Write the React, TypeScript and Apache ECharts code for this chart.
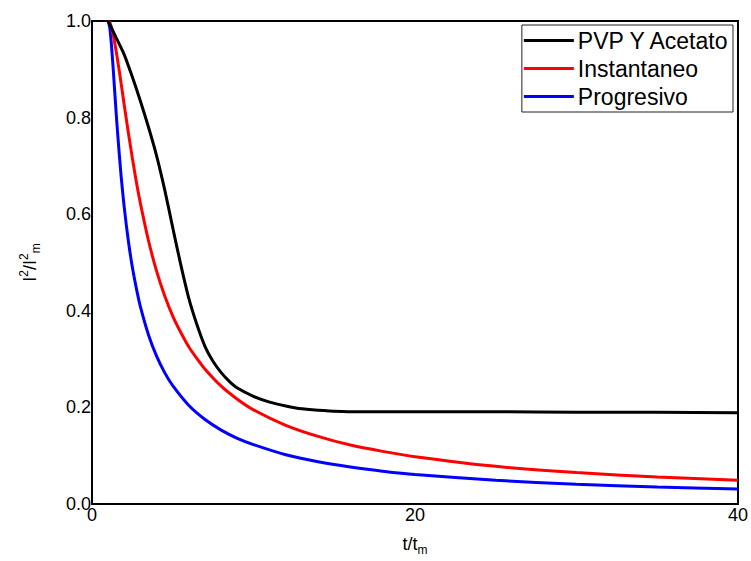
import React, { useEffect, useRef } from "react";
import * as echarts from "echarts";

const seriesNames = ["PVP Y Acetato", "Instantaneo", "Progresivo"];
const seriesColors = ["#000000", "#ff0000", "#0000ff"];

const pvpData: [number, number][] = [
  [1, 1.0], [1.5, 0.965], [2, 0.93], [2.5, 0.884], [3, 0.834], [3.5, 0.78],
  [4, 0.721], [4.5, 0.651], [5, 0.572], [5.5, 0.495], [6, 0.425], [6.5, 0.371],
  [7, 0.326], [7.5, 0.295], [8, 0.272], [8.5, 0.254], [9, 0.24], [10, 0.223],
  [11, 0.211], [12, 0.203], [13, 0.197], [14, 0.194], [16, 0.191], [20, 0.191],
  [25, 0.191], [30, 0.19], [35, 0.19], [40, 0.189],
];

const instData: [number, number][] = [
  [1, 1.0], [1.1, 0.997], [1.25, 0.981], [1.5, 0.937], [1.75, 0.883], [2, 0.825],
  [2.25, 0.769], [2.5, 0.716], [2.75, 0.666], [3, 0.622], [3.5, 0.545], [4, 0.482],
  [4.5, 0.431], [5, 0.389], [5.5, 0.355], [6, 0.325], [6.5, 0.301], [7, 0.279],
  [8, 0.244], [9, 0.217], [10, 0.195], [12, 0.163], [14, 0.14], [16, 0.122],
  [18, 0.109], [20, 0.098], [25, 0.078], [30, 0.065], [35, 0.056], [40, 0.049],
];

const progData: [number, number][] = [
  [1, 1.0], [1.1, 0.986], [1.2, 0.952], [1.3, 0.907], [1.4, 0.857], [1.5, 0.808],
  [1.6, 0.762], [1.8, 0.68], [2, 0.613], [2.25, 0.545], [2.5, 0.49], [2.75, 0.446],
  [3, 0.408], [3.5, 0.35], [4, 0.306], [4.5, 0.272], [5, 0.245], [6, 0.204],
  [7, 0.175], [8, 0.153], [9, 0.136], [10, 0.123], [12, 0.102], [14, 0.0875],
  [16, 0.0766], [18, 0.068], [20, 0.061], [25, 0.049], [30, 0.041], [35, 0.035],
  [40, 0.031],
];

const xMin = 0, xMax = 40, xInterval = 20;
const yMin = 0, yMax = 1, yInterval = 0.2;

export default function App() {
  const ref = useRef<HTMLDivElement>(null);
  useEffect(() => {
    if (!ref.current) return;
    const chart = echarts.init(ref.current, null, { renderer: "svg" });
    const font = "'Liberation Sans', Arial, sans-serif";
    const datasets = [pvpData, instData, progData];
    chart.setOption({
      animation: false,
      backgroundColor: "#ffffff",
      textStyle: { fontFamily: font },
      grid: {
        left: 92, right: 11, top: 21, bottom: 56,
        show: true, borderColor: "#000", borderWidth: 2,
      },
      legend: {
        orient: "vertical",
        right: 18,
        top: 25,
        data: seriesNames.map((n) => ({ name: n })),
        icon: "rect",
        itemWidth: 50,
        itemHeight: 3,
        itemGap: 5,
        padding: [4, 3, 4, 2],
        borderColor: "#222",
        borderWidth: 1,
        textStyle: { fontSize: 23, color: "#000", fontFamily: font, padding: [0, 0, 0, -1] },
      },
      xAxis: {
        type: "value",
        min: xMin, max: xMax, interval: xInterval,
        name: "{a|t/t}{sub|m}",
        nameLocation: "middle",
        nameGap: 28,
        nameTextStyle: {
          rich: {
            a: { fontSize: 18, color: "#000", fontFamily: font, lineHeight: 24, verticalAlign: "middle" },
            sub: { fontSize: 12, color: "#000", fontFamily: font, lineHeight: 24, verticalAlign: "bottom", padding: [10, 0, 0, 0] },
          },
        },
        axisLine: { show: true, lineStyle: { color: "#000", width: 2 } },
        axisTick: { show: false },
        splitLine: { show: false },
        axisLabel: { fontSize: 18, color: "#000", margin: 2, fontFamily: font },
      },
      yAxis: {
        type: "value",
        min: yMin, max: yMax, interval: yInterval,
        name: "{a|I}{sup|2}{a|/I}{sup|2}{sub|m}",
        nameLocation: "middle",
        nameGap: 50,
        nameRotate: 90,
        nameTextStyle: {
          rich: {
            a: { fontSize: 18, color: "#000", fontFamily: font, lineHeight: 24, verticalAlign: "middle" },
            sup: { fontSize: 12, color: "#000", fontFamily: font, lineHeight: 24, verticalAlign: "top", padding: [0, 0, 8, 0] },
            sub: { fontSize: 12, color: "#000", fontFamily: font, lineHeight: 24, verticalAlign: "bottom", padding: [10, 0, 0, 0] },
          },
        },
        axisLine: { show: true, lineStyle: { color: "#000", width: 2 } },
        axisTick: { show: false },
        splitLine: { show: false },
        axisLabel: {
          fontSize: 18, color: "#000", margin: 1, fontFamily: font,
          formatter: (v: number) => v.toFixed(1),
        },
      },
      series: seriesNames.map((name, i) => ({
        name,
        type: "line",
        data: datasets[i],
        smooth: 0.25,
        symbol: "none",
        showSymbol: false,
        clip: true,
        lineStyle: { color: seriesColors[i], width: 3 },
        itemStyle: { color: seriesColors[i] },
        z: 3 - i,
      })),
    });
    return () => chart.dispose();
  }, []);
  return (
    <div
      ref={ref}
      style={{ position: "fixed", left: 0, top: 0, width: 751, height: 561, background: "#fff" }}
    />
  );
}
